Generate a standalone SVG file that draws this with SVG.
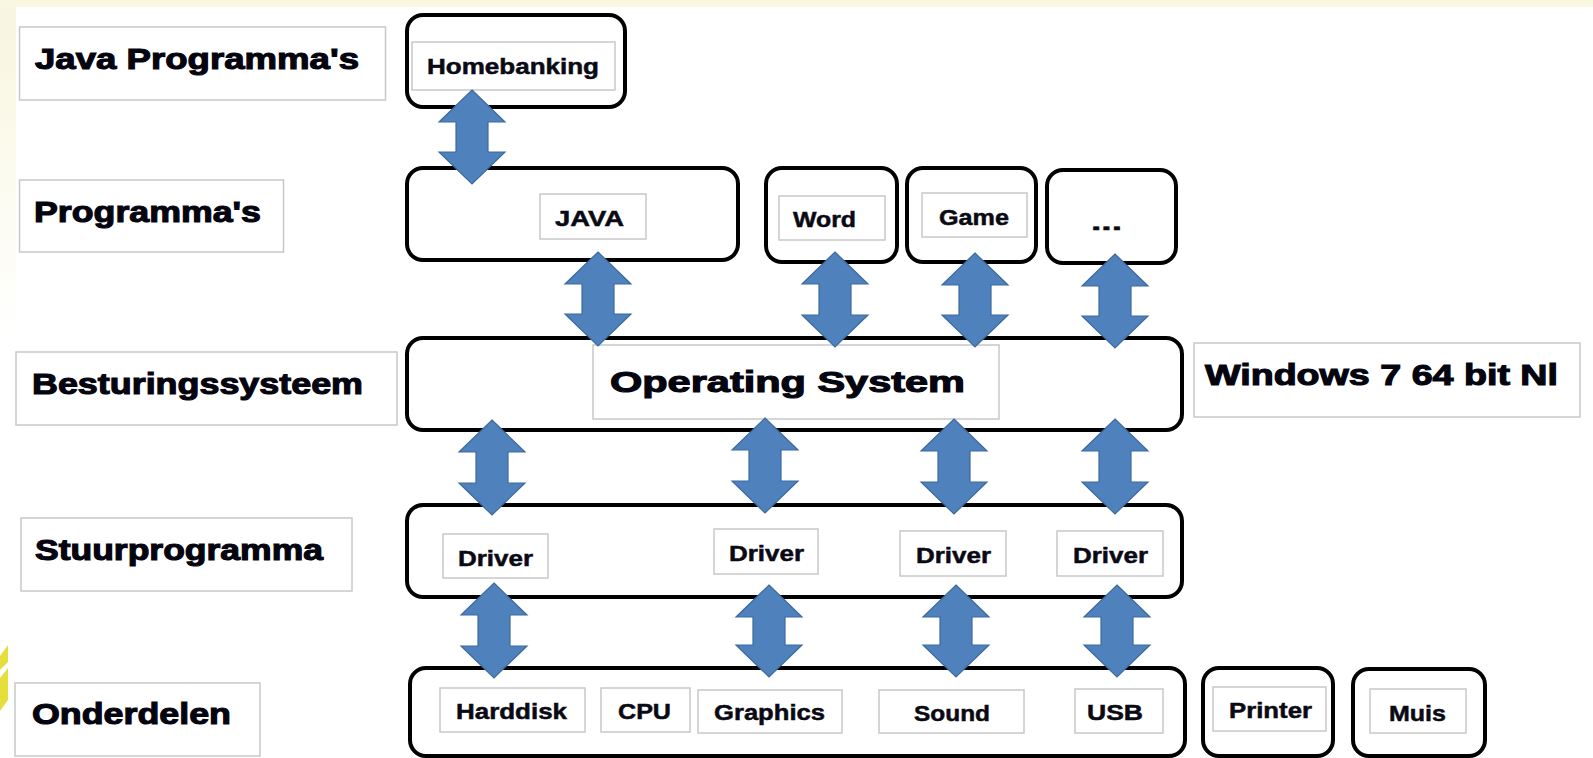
<svg xmlns="http://www.w3.org/2000/svg" width="1593" height="758" viewBox="0 0 1593 758">
<style>
.lbl{fill:#fff;stroke:#c8c8c8;stroke-width:1.5}
.box{fill:#fff;stroke:#000;stroke-width:4}
.big{font-family:"Liberation Sans",Arial,sans-serif;font-weight:bold;font-size:29px;fill:#050510;stroke:#050510;stroke-width:1.1}
.sm{font-family:"Liberation Sans",Arial,sans-serif;font-weight:bold;font-size:22px;fill:#0a0a14;stroke:#0a0a14;stroke-width:0.5}
.arr{fill:#4f81bd;stroke:#3d6a9e;stroke-width:1.2}
</style>
<defs>
<linearGradient id="lg" x1="0" y1="0" x2="0" y2="1">
<stop offset="0" stop-color="#f8f6de"/>
<stop offset="1" stop-color="#ffffff"/>
</linearGradient>
</defs>
<rect x="0" y="0" width="1593" height="758" fill="#fff"/>
<rect x="0" y="0" width="1593" height="7" fill="#f9f7e1"/>
<rect x="0" y="7" width="16" height="330" fill="url(#lg)"/>
<polygon points="0,656 8,645 8,662 0,670" fill="#e6de3c"/>
<polygon points="0,678 8,668 8,700 0,711" fill="#e6de3c"/>

<g id="label-java-programmas">
<rect class="lbl" x="19.5" y="27" width="366" height="73"/>
<text class="big" x="35" y="69" textLength="324" lengthAdjust="spacingAndGlyphs">Java Programma's</text>
</g>
<g id="label-programmas">
<rect class="lbl" x="19.5" y="180" width="264" height="72"/>
<text class="big" x="34" y="222" textLength="227" lengthAdjust="spacingAndGlyphs">Programma's</text>
</g>
<g id="label-besturingssysteem">
<rect class="lbl" x="16" y="352" width="381" height="73"/>
<text class="big" x="32" y="394" textLength="331" lengthAdjust="spacingAndGlyphs">Besturingssysteem</text>
</g>
<g id="label-stuurprogramma">
<rect class="lbl" x="21" y="518" width="331" height="73"/>
<text class="big" x="35" y="560" textLength="288" lengthAdjust="spacingAndGlyphs">Stuurprogramma</text>
</g>
<g id="label-onderdelen">
<rect class="lbl" x="15" y="683" width="245" height="73"/>
<text class="big" x="32" y="724" font-size="30" textLength="199" lengthAdjust="spacingAndGlyphs">Onderdelen</text>
</g>

<g id="homebanking">
<rect class="box" x="407" y="15" width="218" height="92" rx="16"/>
<rect class="lbl" x="412" y="42" width="203" height="48"/>
<text class="sm" x="427" y="74" font-size="21" textLength="172" lengthAdjust="spacingAndGlyphs">Homebanking</text>
</g>
<g id="java">
<rect class="box" x="407" y="168" width="331" height="92" rx="16"/>
<rect class="lbl" x="540" y="194" width="106" height="45"/>
<text class="sm" x="555" y="226" textLength="69" lengthAdjust="spacingAndGlyphs">JAVA</text>
</g>
<g id="word">
<rect class="box" x="766" y="168" width="131" height="94" rx="16"/>
<rect class="lbl" x="779" y="196" width="106" height="44"/>
<text class="sm" x="793" y="227" textLength="63" lengthAdjust="spacingAndGlyphs">Word</text>
</g>
<g id="game">
<rect class="box" x="907" y="168" width="129" height="94" rx="16"/>
<rect class="lbl" x="922" y="193" width="105" height="44"/>
<text class="sm" x="939" y="225" textLength="70" lengthAdjust="spacingAndGlyphs">Game</text>
</g>
<g id="more">
<rect class="box" x="1047" y="170" width="129" height="93" rx="16"/>
<text class="sm" x="1091" y="230" font-size="44" stroke-width="1.2" textLength="31" lengthAdjust="spacingAndGlyphs">...</text>
</g>

<g id="os">
<rect class="box" x="407" y="338" width="775" height="92" rx="16"/>
<rect class="lbl" x="593" y="345" width="406" height="74"/>
<text class="big" x="610" y="392" font-size="32" textLength="355" lengthAdjust="spacingAndGlyphs">Operating System</text>
</g>
<g id="windows">
<rect class="lbl" x="1194" y="343" width="386" height="74"/>
<text class="big" x="1205" y="385" font-size="31" textLength="353" lengthAdjust="spacingAndGlyphs">Windows 7 64 bit Nl</text>
</g>

<g id="drivers">
<rect class="box" x="407" y="505" width="775" height="92" rx="16"/>
<rect class="lbl" x="443" y="534" width="105" height="44"/>
<text class="sm" x="458" y="566" textLength="75" lengthAdjust="spacingAndGlyphs">Driver</text>
<rect class="lbl" x="714" y="529" width="104" height="45"/>
<text class="sm" x="729" y="561" textLength="75" lengthAdjust="spacingAndGlyphs">Driver</text>
<rect class="lbl" x="900" y="531" width="106" height="45"/>
<text class="sm" x="916" y="563" textLength="75" lengthAdjust="spacingAndGlyphs">Driver</text>
<rect class="lbl" x="1057" y="531" width="106" height="45"/>
<text class="sm" x="1073" y="563" textLength="75" lengthAdjust="spacingAndGlyphs">Driver</text>
</g>

<g id="onderdelen">
<rect class="box" x="410" y="668" width="775" height="88" rx="16"/>
<rect class="lbl" x="440" y="688" width="145" height="44"/>
<text class="sm" x="456" y="719" textLength="111" lengthAdjust="spacingAndGlyphs">Harddisk</text>
<rect class="lbl" x="601" y="688" width="89" height="44"/>
<text class="sm" x="618" y="719" textLength="53" lengthAdjust="spacingAndGlyphs">CPU</text>
<rect class="lbl" x="698" y="690" width="144" height="43"/>
<text class="sm" x="714" y="720" textLength="111" lengthAdjust="spacingAndGlyphs">Graphics</text>
<rect class="lbl" x="879" y="690" width="145" height="43"/>
<text class="sm" x="914" y="721" textLength="76" lengthAdjust="spacingAndGlyphs">Sound</text>
<rect class="lbl" x="1075" y="689" width="88" height="44"/>
<text class="sm" x="1087" y="720" textLength="56" lengthAdjust="spacingAndGlyphs">USB</text>
</g>
<g id="printer">
<rect class="box" x="1203" y="668" width="130" height="88" rx="16"/>
<rect class="lbl" x="1213" y="687" width="113" height="44"/>
<text class="sm" x="1229" y="718" textLength="83" lengthAdjust="spacingAndGlyphs">Printer</text>
</g>
<g id="muis">
<rect class="box" x="1353" y="669" width="132" height="87" rx="16"/>
<rect class="lbl" x="1370" y="689" width="96" height="44"/>
<text class="sm" x="1389" y="721" textLength="57" lengthAdjust="spacingAndGlyphs">Muis</text>
</g>

<g id="connectors">
<path class="arr" d="M472,90 L505,122 L488,122 L488,152 L505,152 L472,184 L439,152 L456,152 L456,122 L439,122 Z"/>
<path class="arr" d="M598,252 L631,284 L614,284 L614,314 L631,314 L598,346 L565,314 L582,314 L582,284 L565,284 Z"/>
<path class="arr" d="M835,252 L868,284 L851,284 L851,315 L868,315 L835,347 L802,315 L819,315 L819,284 L802,284 Z"/>
<path class="arr" d="M975,253 L1008,285 L991,285 L991,315 L1008,315 L975,347 L942,315 L959,315 L959,285 L942,285 Z"/>
<path class="arr" d="M1115,254 L1148,286 L1131,286 L1131,316 L1148,316 L1115,348 L1082,316 L1099,316 L1099,286 L1082,286 Z"/>
<path class="arr" d="M492,420 L525,452 L508,452 L508,483 L525,483 L492,515 L459,483 L476,483 L476,452 L459,452 Z"/>
<path class="arr" d="M765,418 L798,450 L781,450 L781,481 L798,481 L765,513 L732,481 L749,481 L749,450 L732,450 Z"/>
<path class="arr" d="M954,419 L987,451 L970,451 L970,482 L987,482 L954,514 L921,482 L938,482 L938,451 L921,451 Z"/>
<path class="arr" d="M1115,419 L1148,451 L1131,451 L1131,482 L1148,482 L1115,514 L1082,482 L1099,482 L1099,451 L1082,451 Z"/>
<path class="arr" d="M494,583 L527,615 L510,615 L510,646 L527,646 L494,678 L461,646 L478,646 L478,615 L461,615 Z"/>
<path class="arr" d="M769,585 L802,617 L785,617 L785,645 L802,645 L769,677 L736,645 L753,645 L753,617 L736,617 Z"/>
<path class="arr" d="M956,585 L989,617 L972,617 L972,645 L989,645 L956,677 L923,645 L940,645 L940,617 L923,617 Z"/>
<path class="arr" d="M1117,585 L1150,617 L1133,617 L1133,645 L1150,645 L1117,677 L1084,645 L1101,645 L1101,617 L1084,617 Z"/>
</g>
</svg>
